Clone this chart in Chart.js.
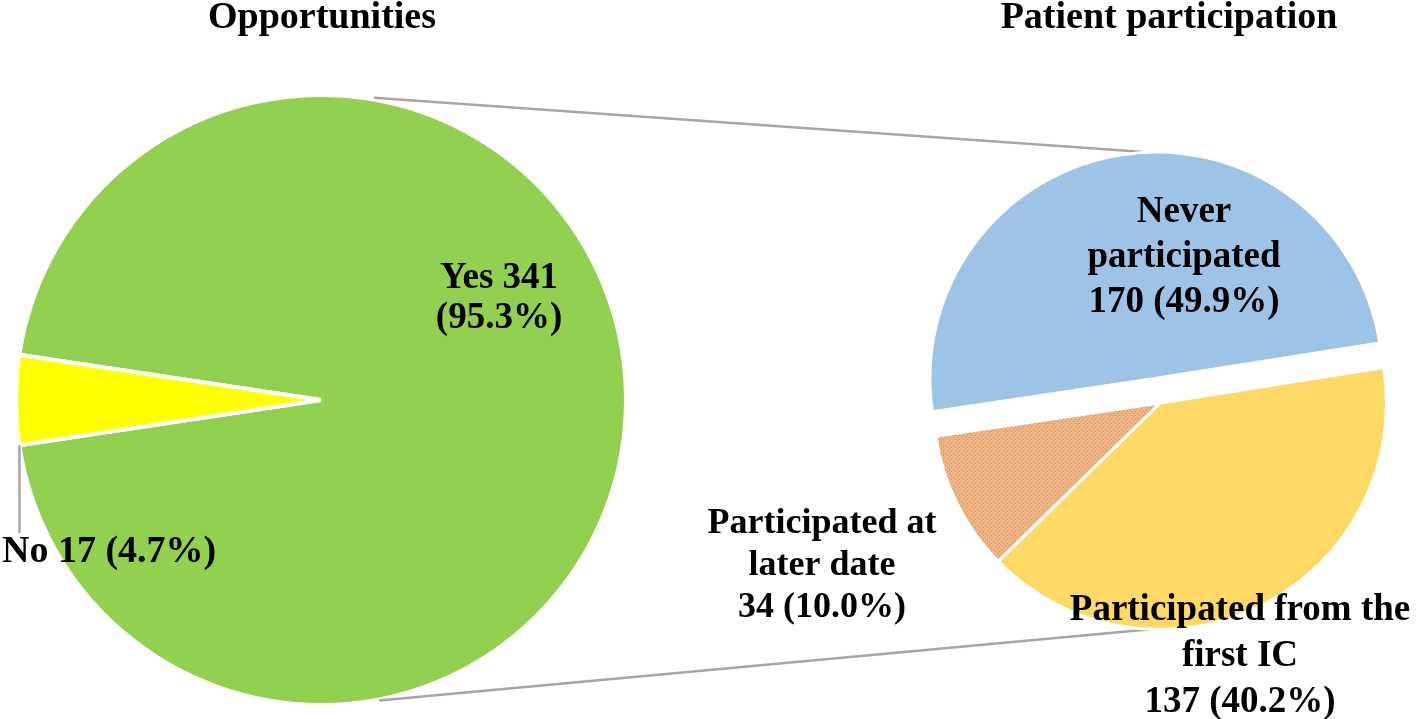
<!DOCTYPE html>
<html>
<head>
<meta charset="utf-8">
<title>Opportunities and patient participation</title>
<script src="https://cdn.jsdelivr.net/npm/chart.js@4.4.1/dist/chart.umd.min.js"></script>
<style>
  html, body { margin: 0; padding: 0; background: #ffffff; }
  #wrap { position: relative; width: 1418px; height: 719px; }
  #wrap canvas { position: absolute; left: 0; top: 0; }
</style>
</head>
<body>
<div id="wrap">
  <canvas id="leftPie" width="1418" height="719"></canvas>
  <canvas id="rightPie" width="1418" height="719"></canvas>
</div>
<script>
// Left pie: opportunities
const oppNames = ["Yes", "No"];
const oppCounts = [341, 17];
const oppPercents = [95.3, 4.7];
const oppColors = ["#92D050", "#FFFF00"];

// Right pie: patient participation (clockwise from the right edge)
const partNames = [["Participated from the", "first IC"], ["Participated at", "later date"], ["Never", "participated"]];
const partCounts = [137, 34, 170];
const partPercents = [40.2, 10.0, 49.9];

const FONT = "'Liberation Serif', 'Times New Roman', serif";
const GREY = "#A6A6A6";
const EXPLODE = 100; // offset of the "Never participated" slice

// dotted fill for the "later date" slice
function dotPattern() {
  const c = document.createElement("canvas");
  c.width = 4;
  c.height = 4;
  const g = c.getContext("2d");
  g.fillStyle = "#F4B183";
  g.fillRect(0, 0, 4, 4);
  g.fillStyle = "rgba(120, 150, 60, 0.55)";
  g.fillRect(1, 1, 1, 1);
  g.fillRect(3, 3, 1, 1);
  return g.createPattern(c, "repeat");
}

function countText(n, p) {
  return n + " (" + p.toFixed(1) + "%)";
}

function drawLines(ctx, lines, x, y, step, size, align) {
  ctx.font = "bold " + size + "px " + FONT;
  ctx.fillStyle = "#000000";
  ctx.textAlign = align || "center";
  ctx.textBaseline = "alphabetic";
  lines.forEach((t, i) => ctx.fillText(t, x, y + i * step));
}

const leftText = {
  id: "leftText",
  afterDatasetsDraw(chart) {
    const ctx = chart.ctx;
    const arc = chart.getDatasetMeta(0).data[0];
    const cx = arc.x, cy = arc.y, r = arc.outerRadius;
    ctx.save();
    drawLines(ctx, ["Opportunities"], cx + 1, 28, 0, 38);
    drawLines(ctx, [oppNames[0] + " " + oppCounts[0], "(" + oppPercents[0].toFixed(1) + "%)"], cx + 178, 288, 40, 37);

    // leader line for the small slice
    const a = chart.getDatasetMeta(0).data[1].startAngle;
    const lx = cx + r * Math.cos(a), ly = cy + r * Math.sin(a);
    ctx.strokeStyle = GREY;
    ctx.lineWidth = 2.5;
    ctx.beginPath();
    ctx.moveTo(lx, ly);
    ctx.lineTo(lx, 533);
    ctx.stroke();
    drawLines(ctx, [oppNames[1] + " " + oppCounts[1] + " (" + oppPercents[1].toFixed(1) + "%)"], 2, 562, 0, 38, "left");
    ctx.restore();
  }
};

const leftChart = new Chart(document.getElementById("leftPie"), {
  type: "pie",
  data: {
    labels: oppNames,
    datasets: [{
      data: oppCounts,
      backgroundColor: oppColors,
      borderColor: "#ffffff",
      borderWidth: 4
    }]
  },
  options: {
    responsive: false,
    animation: false,
    events: [],
    radius: 305,
    rotation: 270 + 180 * oppCounts[1] / (oppCounts[0] + oppCounts[1]),
    layout: { padding: { left: 18, right: 794, top: 97, bottom: 16 } },
    plugins: {
      legend: { display: false },
      tooltip: { enabled: false }
    }
  },
  plugins: [leftText]
});

// exploded slice: keep the same radius as the others and a straight edge
// (Chart.js grows it by offset/4 and trims its angles a little)
const keepRadius = {
  id: "keepRadius",
  afterDatasetsUpdate(chart) {
    const meta = chart.getDatasetMeta(0);
    const R = meta.controller.outerRadius;
    meta.data.forEach(el => {
      const off = (el.options.offset || 0) / 4;
      el.outerRadius = R - off;
      if (off) {
        const d = off / (Math.PI * R) / 2;
        el.startAngle -= d;
        el.endAngle += d;
      }
    });
  }
};

// grey series lines joining the two pies
const seriesLines = {
  id: "seriesLines",
  beforeDatasetsDraw(chart) {
    const L = leftChart.getDatasetMeta(0).data[0];
    const R = chart.getDatasetMeta(0).data[0];
    const blue = chart.getDatasetMeta(0).data[2];
    const mid = (blue.startAngle + blue.endAngle) / 2;
    const shift = EXPLODE / 4;
    const bx = R.x + Math.cos(mid) * shift, by = R.y + Math.sin(mid) * shift;
    const t1 = 10 * Math.PI / 180, t2 = 3 * Math.PI / 180;
    const ctx = chart.ctx;
    ctx.save();
    ctx.strokeStyle = GREY;
    ctx.lineWidth = 2.5;
    ctx.beginPath();
    ctx.moveTo(L.x + L.outerRadius * Math.sin(t1), L.y - L.outerRadius * Math.cos(t1) - 2);
    ctx.lineTo(bx - R.outerRadius * Math.sin(t2), by - R.outerRadius * Math.cos(t2));
    ctx.moveTo(L.x + L.outerRadius * Math.sin(t1 * 1.1), L.y + L.outerRadius * Math.cos(t1 * 1.1) + 1);
    ctx.lineTo(R.x - R.outerRadius * Math.sin(t2 * 0.8), R.y + R.outerRadius * Math.cos(t2 * 0.8));
    ctx.stroke();
    ctx.restore();
  }
};

const rightText = {
  id: "rightText",
  afterDatasetsDraw(chart) {
    const ctx = chart.ctx;
    const arc = chart.getDatasetMeta(0).data[0];
    const cx = arc.x;
    ctx.save();
    drawLines(ctx, ["Patient participation"], cx + 9, 28, 0, 38);
    drawLines(ctx, partNames[2].concat([countText(partCounts[2], partPercents[2])]), cx + 24, 222, 45, 37);
    drawLines(ctx, partNames[1].concat([countText(partCounts[1], partPercents[1])]), cx - 338, 533, 42, 36);
    drawLines(ctx, partNames[0].concat([countText(partCounts[0], partPercents[0])]), cx + 80, 620, 46, 37);
    ctx.restore();
  }
};

new Chart(document.getElementById("rightPie"), {
  type: "pie",
  data: {
    labels: partNames.map(n => n.join(" ")),
    datasets: [{
      data: partCounts,
      backgroundColor: ["#FFD966", dotPattern(), "#9DC3E6"],
      borderColor: "#ffffff",
      borderWidth: 3,
      offset: [0, 0, EXPLODE]
    }]
  },
  options: {
    responsive: false,
    animation: false,
    events: [],
    radius: 226.5,
    rotation: 81,
    layout: { padding: { left: 935, right: 33, top: 178, bottom: 91 } },
    plugins: {
      legend: { display: false },
      tooltip: { enabled: false }
    }
  },
  plugins: [keepRadius, seriesLines, rightText]
});
</script>
</body>
</html>
